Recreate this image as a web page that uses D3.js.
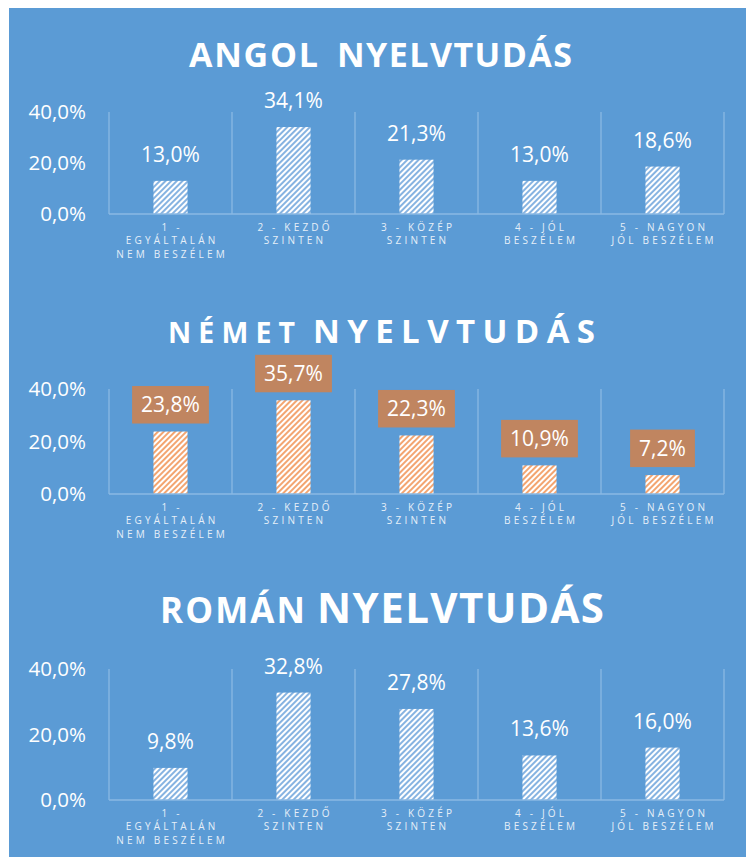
<!DOCTYPE html>
<html>
<head>
<meta charset="utf-8">
<script src="https://cdn.jsdelivr.net/npm/d3@7"></script>
<style>
  body { margin: 0; background: #ffffff; }
  svg { display: block; }
</style>
</head>
<body>
<div id="chart"></div>
<script>
// Data
const categories = [
    ["1 -", "EGYÁLTALÁN", "NEM BESZÉLEM"],
    ["2 - KEZDŐ", "SZINTEN"],
    ["3 - KÖZÉP", "SZINTEN"],
    ["4 - JÓL", "BESZÉLEM"],
    ["5 - NAGYON", "JÓL BESZÉLEM"]
];
const yTicks = [0, 20, 40];

const angolTitle = ["ANGOL", "NYELVTUDÁS"];
const angolValues = [13.0, 34.1, 21.3, 13.0, 18.6];

const nemetTitle = ["NÉMET", "NYELVTUDÁS"];
const nemetValues = [23.8, 35.7, 22.3, 10.9, 7.2];

const romanTitle = ["ROMÁN", "NYELVTUDÁS"];
const romanValues = [9.8, 32.8, 27.8, 13.6, 16.0];

const width = 746;
const height = 857;
const font = "'Open Sans', 'DejaVu Sans', sans-serif";

// Hungarian number format: comma as decimal sign
const hu = d3.formatLocale({ decimal: ",", thousands: " ", grouping: [3], currency: ["", " Ft"] });
const formatPct = v => hu.format(".1f")(v) + "%";

const svg = d3.select("#chart").append("svg")
    .attr("width", width)
    .attr("height", height)
    .attr("viewBox", [0, 0, width, height])
    .style("font-family", font);

// Hatched fills (wide upward diagonal)
const defs = svg.append("defs");
function addHatch(id, stripe) {
    const p = defs.append("pattern")
        .attr("id", id)
        .attr("patternUnits", "userSpaceOnUse")
        .attr("width", 4)
        .attr("height", 4)
        .attr("patternTransform", "rotate(45)");
    p.append("rect").attr("width", 4).attr("height", 4).attr("fill", "#ffffff");
    p.append("rect").attr("x", 0).attr("width", 2).attr("height", 4).attr("fill", stripe);
}
addHatch("hatchBlue", "#86b3e1");
addHatch("hatchOrange", "#f3a571");

// Blue panel behind all three charts
svg.append("rect")
    .attr("x", 9)
    .attr("y", 8)
    .attr("width", width - 9)
    .attr("height", height - 8)
    .attr("fill", "#5b9bd5");

function createChart(title, values, opts) {
    const g = svg.append("g");

    // Title, two words, each pinned to its width
    opts.title.forEach((t, i) => {
        g.append("text")
            .attr("x", t.x0)
            .attr("y", opts.titleY)
            .attr("fill", "#ffffff")
            .attr("font-weight", "bold")
            .attr("font-size", t.size)
            .attr("textLength", t.x1 - t.x0)
            .attr("lengthAdjust", "spacing")
            .text(title[i]);
    });

    const x = d3.scaleBand()
        .domain(d3.range(categories.length))
        .range([109, 724]);
    const y = d3.scaleLinear()
        .domain([0, 40])
        .range([opts.bottom, opts.top]);
    const bw = x.bandwidth();
    const barW = bw * 0.277;

    // Y axis labels
    const yAxis = g.append("g")
        .attr("transform", `translate(109,0)`)
        .call(d3.axisLeft(y).tickValues(yTicks).tickFormat(formatPct).tickSize(0).tickPadding(23));
    yAxis.select(".domain").remove();
    yAxis.selectAll("text")
        .attr("fill", "#ffffff")
        .attr("font-size", 20.5)
        .attr("font-family", font);

    // Separators between categories
    const lineColor = "#8ab8e3";
    g.append("g")
        .selectAll("line")
        .data(d3.range(categories.length + 1))
        .join("line")
        .attr("x1", i => i < categories.length ? x(i) : x(i - 1) + bw)
        .attr("x2", i => i < categories.length ? x(i) : x(i - 1) + bw)
        .attr("y1", y(40))
        .attr("y2", y(0))
        .attr("stroke", lineColor)
        .attr("stroke-width", 1.3);

    // Bars
    g.append("g")
        .selectAll("rect")
        .data(values)
        .join("rect")
        .attr("x", (d, i) => x(i) + bw / 2 - barW / 2)
        .attr("y", d => y(d))
        .attr("width", barW)
        .attr("height", d => y(0) - y(d))
        .attr("fill", `url(#${opts.hatch})`);

    // Baseline
    g.append("line")
        .attr("x1", x(0))
        .attr("x2", x(categories.length - 1) + bw)
        .attr("y1", y(0))
        .attr("y2", y(0))
        .attr("stroke", lineColor)
        .attr("stroke-width", 1.5);

    // Category labels
    const cat = g.append("g")
        .selectAll("text")
        .data(categories)
        .join("text")
        .attr("text-anchor", "middle")
        .attr("fill", "#e6eff8")
        .attr("font-size", 10)
        .attr("letter-spacing", 3.2);
    cat.selectAll("tspan")
        .data((d, i) => d.map(s => ({ s, i })))
        .join("tspan")
        .attr("x", d => x(d.i) + bw / 2 + 1.6)
        .attr("y", (d, j) => y(0) + 16.5 + j * 13.5)
        .text(d => d.s);

    // Data labels
    const lab = g.append("g")
        .selectAll("g")
        .data(values)
        .join("g");
    if (opts.boxed) {
        const txt = lab.append("text")
            .attr("x", (d, i) => x(i) + bw / 2)
            .attr("y", d => y(d) - 8 - 37.5 / 2 + 7.5)
            .attr("text-anchor", "middle")
            .attr("fill", "#ffffff")
            .attr("font-size", 21)
            .text(formatPct);
        txt.each(function(d, i) {
            const w = this.getComputedTextLength() + 18;
            d3.select(this.parentNode).insert("rect", "text")
                .attr("x", x(i) + bw / 2 - w / 2)
                .attr("y", y(d) - 8 - 37.5)
                .attr("width", w)
                .attr("height", 37.5)
                .attr("fill", "#c08560");
        });
    } else {
        lab.append("text")
            .attr("x", (d, i) => x(i) + bw / 2)
            .attr("y", d => y(d) - 19)
            .attr("text-anchor", "middle")
            .attr("fill", "#ffffff")
            .attr("font-size", 21)
            .text(formatPct);
    }
}

createChart(angolTitle, angolValues, {
    titleY: 67,
    title: [{ x0: 189, x1: 318, size: 34 }, { x0: 337, x1: 572, size: 34 }],
    top: 112, bottom: 214,
    hatch: "hatchBlue", boxed: false
});

createChart(nemetTitle, nemetValues, {
    titleY: 343,
    title: [{ x0: 168, x1: 295, size: 28.5 }, { x0: 313, x1: 595, size: 33 }],
    top: 389, bottom: 494,
    hatch: "hatchOrange", boxed: true
});

createChart(romanTitle, romanValues, {
    titleY: 623,
    title: [{ x0: 160, x1: 305, size: 35 }, { x0: 317, x1: 604, size: 42 }],
    top: 669, bottom: 800,
    hatch: "hatchBlue", boxed: false
});
</script>
</body>
</html>
